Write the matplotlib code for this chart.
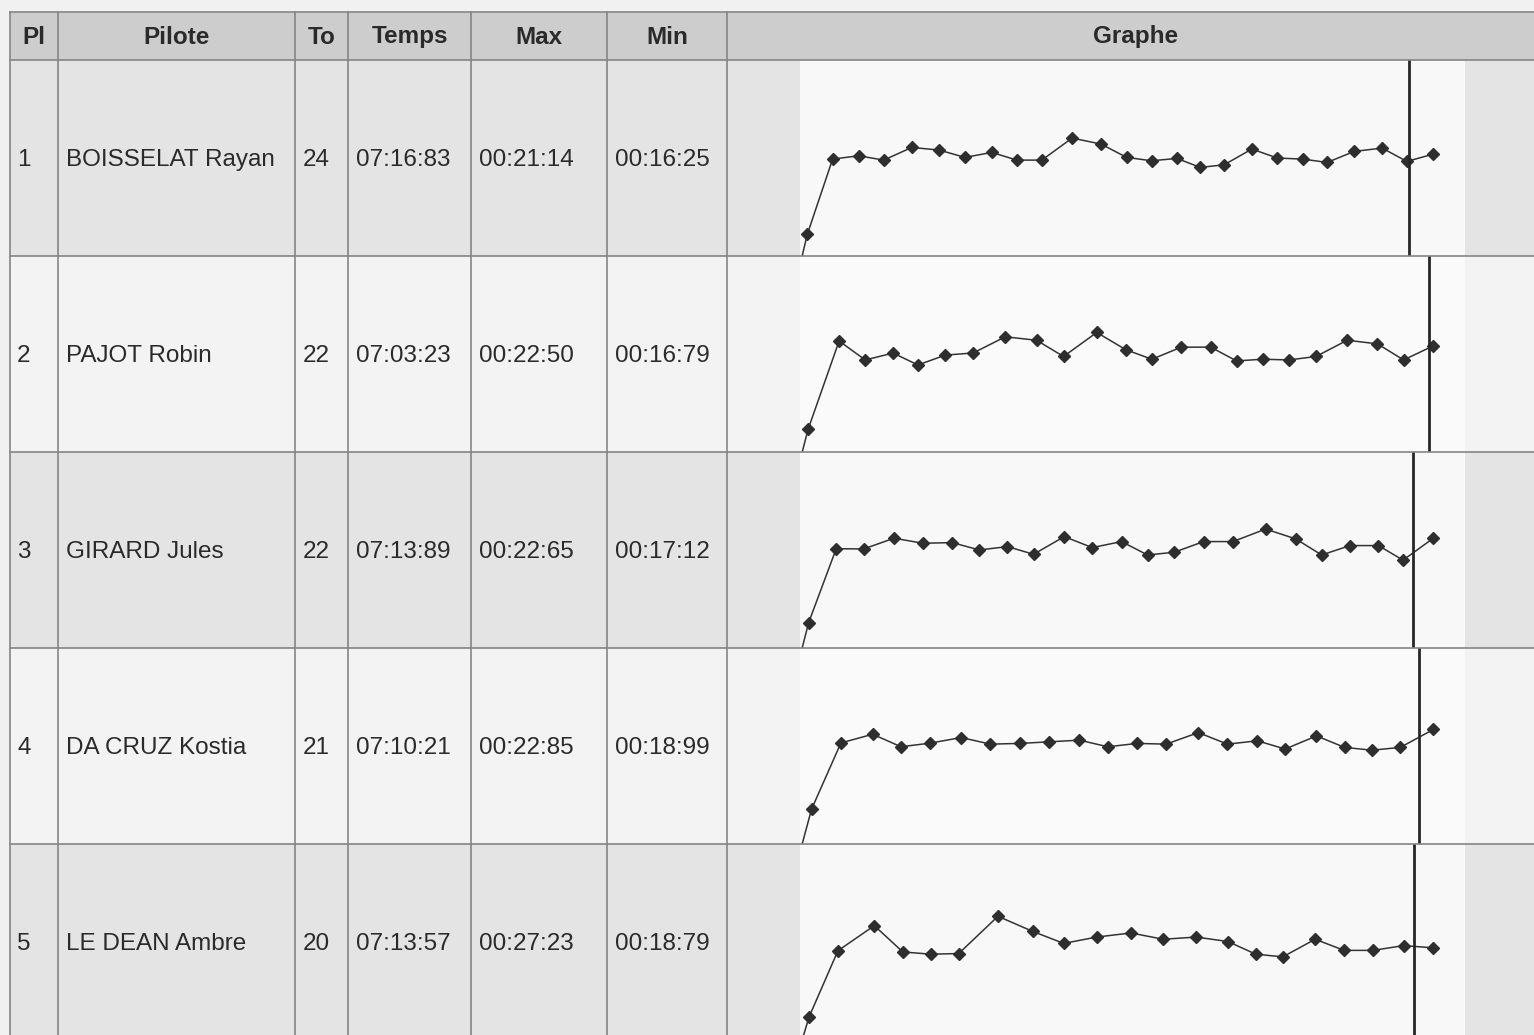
import matplotlib.pyplot as plt
import matplotlib.patches as mpatches
import numpy as np

plt.rcParams['font.family'] = ['Liberation Sans', 'DejaVu Sans']

# classement de la manche
places = ['1', '2', '3', '4', '5']
pilotes = ['BOISSELAT Rayan', 'PAJOT Robin', 'GIRARD Jules', 'DA CRUZ Kostia', 'LE DEAN Ambre']
nb_tours = ['24', '22', '22', '21', '20']
temps = ['07:16:83', '07:03:23', '07:13:89', '07:10:21', '07:13:57']
t_max = ['00:21:14', '00:22:50', '00:22:65', '00:22:85', '00:27:23']
t_min = ['00:16:25', '00:16:79', '00:17:12', '00:18:99', '00:18:79']
entetes = ['Pl', 'Pilote', 'To', 'Temps', 'Max', 'Min', 'Graphe']

# temps avant le premier passage, puis temps au tour (secondes)
depart = [5.14, 5.49, 6.00, 7.96, 6.27]
tours_1 = [17.64, 18.19, 17.47, 19.58, 19.14, 17.92, 18.75, 17.47, 17.47, 21.14, 20.14, 17.92,
           17.36, 17.75, 16.25, 16.69, 19.31, 17.81, 17.64, 17.08, 18.92, 19.47, 17.25, 18.47]
tours_2 = [21.00, 17.67, 18.88, 16.79, 18.52, 18.90, 21.74, 21.13, 18.28, 22.50, 19.49,
           17.79, 19.92, 19.92, 17.50, 17.80, 17.67, 18.28, 21.13, 20.50, 17.67, 20.15]
tours_3 = [19.15, 19.11, 21.02, 20.12, 20.24, 18.93, 19.53, 18.16, 21.31, 19.35, 20.42,
           18.04, 18.52, 20.42, 20.42, 22.65, 20.90, 18.04, 19.71, 19.71, 17.12, 21.02]
tours_4 = [20.34, 21.96, 19.63, 20.31, 21.35, 20.12, 20.25, 20.55, 20.86, 19.63, 20.25,
           20.12, 22.27, 20.12, 20.74, 19.20, 21.65, 19.51, 18.99, 19.51, 22.85]
tours_5 = [20.06, 25.28, 19.81, 19.35, 19.48, 27.23, 24.09, 21.59, 22.91, 23.76,
           22.45, 22.91, 21.98, 19.35, 18.79, 22.45, 20.14, 20.14, 21.13, 20.67]
tours = [tours_1, tours_2, tours_3, tours_4, tours_5]
duree_course = 420  # 7 minutes

W, H = 1534, 1035
col_x = [10, 58, 295, 348, 471, 607, 727, 1545]
row_y = [12, 60, 256, 452, 648, 844, 1040]
graph_x = (800, 1465)


def fig_rect(x0, y0, x1, y1):
    return [x0 / W, 1 - y1 / H, (x1 - x0) / W, (y1 - y0) / H]


fig = plt.figure(figsize=(W / 100, H / 100), dpi=100, facecolor='#f1f1f1')

# fonds des cellules
bg = fig.add_axes([0, 0, 1, 1])
bg.set_xlim(0, W)
bg.set_ylim(H, 0)
bg.axis('off')
bg.add_patch(mpatches.Rectangle((col_x[0], row_y[0]), W, row_y[1] - row_y[0],
                                color='#cdcdcd', lw=0))
for i in range(5):
    c = '#e4e4e4' if i % 2 == 0 else '#f3f3f3'
    bg.add_patch(mpatches.Rectangle((col_x[0], row_y[i + 1]), W, row_y[i + 2] - row_y[i + 1],
                                    color=c, lw=0))

# graphes des tours
for i, laps in enumerate(tours):
    laps = np.array(laps)
    t0 = depart[i]
    x = np.concatenate([[-t0, 0], np.cumsum(laps)])
    y = np.concatenate([[0, t0], laps])
    ax = fig.add_axes(fig_rect(graph_x[0], row_y[i + 1], graph_x[1], row_y[i + 2]))
    ax.set_facecolor('#f8f8f8' if i % 2 == 0 else '#fafafa')
    ax.plot(x, y, color='#333333', lw=1.1, marker='D', ms=6.5,
            markerfacecolor='#2e2e2e', markeredgecolor='#2e2e2e')
    ax.axvline(duree_course, color='#262626', lw=2)
    ax.set_xlim(-t0, x[-1] + 0.05 * (x[-1] + t0))
    ax.set_ylim(1.5, laps.max() + 0.8 * laps.min())
    ax.set_xticks([])
    ax.set_yticks([])
    for s in ax.spines.values():
        s.set_visible(False)

# quadrillage et textes
ov = fig.add_axes([0, 0, 1, 1])
ov.set_xlim(0, W)
ov.set_ylim(H, 0)
ov.axis('off')
ov.patch.set_alpha(0)
for yy in row_y:
    ov.plot([col_x[0], W], [yy, yy], color='#858585', lw=1.2)
for xx in col_x:
    ov.plot([xx, xx], [row_y[0], H], color='#858585', lw=1.2)

txt = dict(fontsize=17.5, color='#2a2a2a', va='center')
for j, h in enumerate(entetes):
    ov.text((col_x[j] + col_x[j + 1]) / 2, 37, h, ha='center', fontweight='bold', **txt)

for i in range(5):
    yc = (row_y[i + 1] + row_y[i + 2]) / 2 + 2
    cells = [places[i], pilotes[i], nb_tours[i], temps[i], t_max[i], t_min[i]]
    for j, v in enumerate(cells):
        ov.text(col_x[j] + (7 if j == 0 else 8), yc, v, ha='left', **txt)

fig.savefig('out.png', dpi=100, facecolor=fig.get_facecolor())
plt.close(fig)
